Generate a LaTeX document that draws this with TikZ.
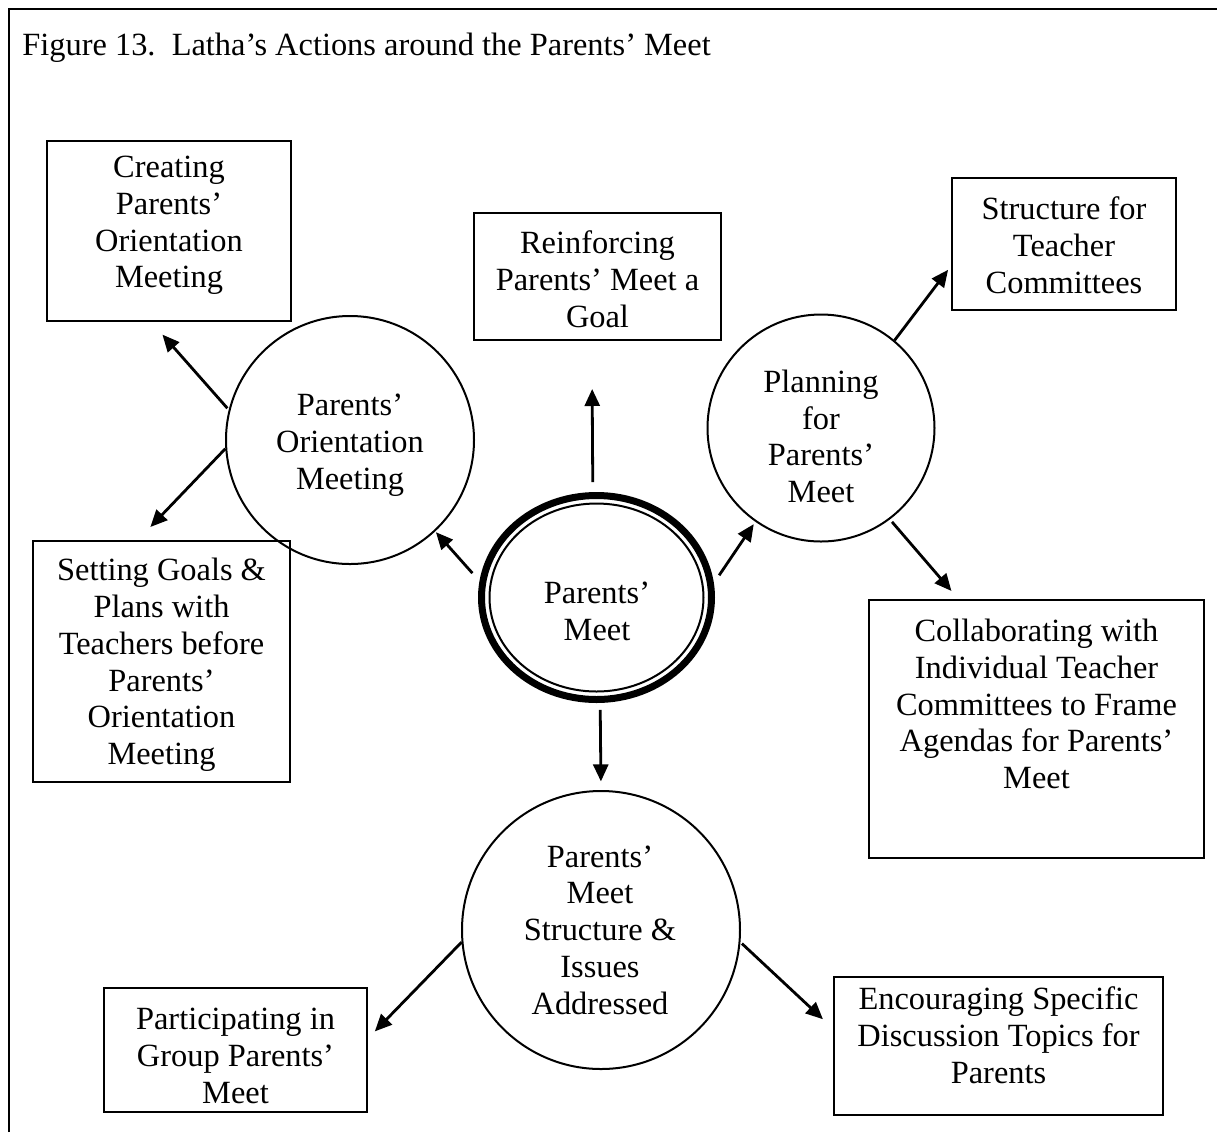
\documentclass[tikz,border=0pt]{standalone}
\usepackage{fontspec}
\setmainfont{Liberation Serif}
\usetikzlibrary{arrows.meta,shapes.geometric}
\begin{document}
\begin{tikzpicture}[x=0.5pt,y=-0.5pt,
  every node/.style={font=\fontsize{16.2}{18.4}\selectfont},
  box/.style={draw, line width=1pt, rectangle, inner sep=0pt},
  bubble/.style={draw, line width=1pt, circle, inner sep=0pt},
  txt/.style={align=center, inner sep=0pt},
  arr/.style={line width=1.4pt, -{Triangle[length=8.5pt,width=7.5pt]}}]
\useasboundingbox (0,0) rectangle (1217,1132);
% open frame: left and top edges
\draw[line width=1.3pt] (9,1132) -- (9,9) -- (1217,9);
\node[anchor=base west, inner sep=0pt] (title) at (22,55) {Figure 13.\ \ Latha’s Actions around the Parents’ Meet};

% rectangular boxes
\node[box, minimum width=122pt, minimum height=90pt] (cre) at (169,231) {};
\node[box, minimum width=123.5pt, minimum height=63.5pt] (rei) at (597.5,276.5) {};
\node[box, minimum width=112pt, minimum height=66pt] (str) at (1064,244) {};
\node[box, minimum width=128.5pt, minimum height=120.5pt] (set) at (161.5,661.5) {};
\node[box, minimum width=167.5pt, minimum height=129pt] (col) at (1036.5,729) {};
\node[box, minimum width=131.5pt, minimum height=62pt] (par) at (235.5,1050) {};
\node[box, minimum width=164.5pt, minimum height=69pt] (enc) at (998.5,1046) {};

% circles
\node[bubble, minimum size=124pt] (ori) at (350,440) {};
\node[bubble, minimum size=113.5pt] (pla) at (821,428) {};
\node[bubble, minimum size=139pt] (bot) at (601,930) {};
% central double ring: thick outer, thin inner
\node[draw, ellipse, line width=3.5pt, inner sep=0pt, minimum width=115pt, minimum height=102pt] (pm) at (596.5,597.5) {};
\node[draw, ellipse, line width=1pt, inner sep=0pt, minimum width=107pt, minimum height=94pt] (pmin) at (596.5,597.5) {};

% labels
\node[txt] (creT) at (169,225.5) {Creating\\Parents’\\Orientation\\Meeting};
\node[txt] (reiT) at (597.5,279) {Reinforcing\\Parents’ Meet a\\Goal};
\node[txt] (strT) at (1064,245) {Structure for\\Teacher\\Committees};
\node[txt] (oriT) at (350,445.5) {Parents’\\Orientation\\Meeting};
\node[txt] (plaT) at (821,436.5) {Planning\\for\\Parents’\\Meet};
\node[txt] (pmT) at (597,611.5) {Parents’\\Meet};
\node[txt] (setT) at (161.5,665) {Setting Goals \&\\Plans with\\Teachers before\\Parents’\\Orientation\\Meeting};
\node[txt] (colT) at (1036.5,704) {Collaborating with\\Individual Teacher\\Committees to Frame\\Agendas for Parents’\\Meet};
\node[txt] (botT) at (600,930) {Parents’\\Meet\\Structure \&\\Issues\\Addressed};
\node[txt] (parT) at (235.5,1056) {Participating in\\Group Parents’\\Meet};
\node[txt] (encT) at (998.5,1035) {Encouraging Specific\\Discussion Topics for\\Parents};

% connectors
\draw[arr, shorten <=1pt, shorten >=8.4pt] (ori.166.9) -- (cre.-101.1);
\draw[arr, shorten >=9pt] (ori.184.2) -- (set.101.3);
\draw[arr, shorten <=5.3pt, shorten >=0.5pt] (pm.172.9) -- (ori.-47.8);
\draw[arr, shorten <=5pt, shorten >=24pt] (pm.92.4) -- (rei.-95);
\draw[arr, shorten <=4.7pt, shorten >=1.4pt] (pm.7.1) -- (pla.-125.6);
\draw[arr, shorten >=2.4pt] (pla.50.9) -- (str.-169.3);
\draw[arr, shorten <=1.6pt, shorten >=5.3pt] (pla.-53.5) -- (col.121);
\draw[arr, shorten <=3.5pt, shorten >=4.3pt] (pm.-88.6) -- (bot.90.8);
\draw[arr, shorten >=4.9pt] (bot.185.4) -- (par.5.7);
\draw[arr, shorten <=1pt, shorten >=6.9pt] (bot.-5.3) -- (enc.174.2);
\end{tikzpicture}
\end{document}
